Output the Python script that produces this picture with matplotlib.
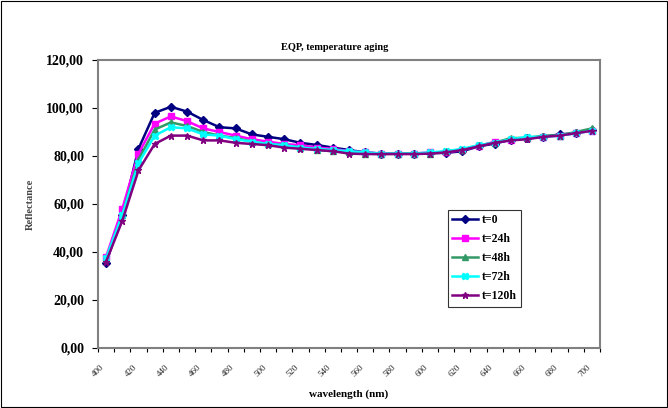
import numpy as np
import matplotlib
matplotlib.use("Agg")
from matplotlib import pyplot as plt
from matplotlib.patches import Rectangle

plt.rcParams['font.family'] = ['Liberation Serif', 'DejaVu Serif']

# wavelengths (nm), one point every 10 nm
wavelength = list(range(400, 710, 10))

t0 = [35.5, 55.5, 83.0, 98.0, 100.5, 98.5, 95.0, 92.0, 91.5, 89.0, 88.0,
      87.0, 85.5, 84.6, 83.5, 82.5, 81.5, 81.0, 81.0, 81.0, 81.2, 81.3,
      82.0, 84.0, 85.2, 86.8, 87.3, 88.0, 89.0, 89.5, 91.0]
t24 = [38.0, 58.0, 81.0, 93.5, 96.5, 94.5, 91.5, 90.0, 88.5, 87.0, 86.0,
       85.0, 84.5, 83.5, 83.0, 82.0, 81.5, 81.0, 81.0, 81.0, 81.5, 81.5,
       82.5, 84.0, 86.0, 86.5, 87.5, 88.0, 88.5, 89.5, 90.5]
t48 = [37.0, 55.5, 78.5, 91.0, 94.0, 92.5, 90.0, 88.5, 87.5, 86.0, 85.0,
       84.5, 83.5, 82.5, 82.0, 81.5, 81.0, 80.8, 81.0, 81.0, 81.0, 82.0,
       82.5, 84.5, 85.5, 87.5, 87.5, 88.5, 88.5, 90.0, 91.5]
t72 = [37.5, 55.5, 77.0, 88.5, 92.0, 91.5, 89.0, 88.5, 87.0, 86.0, 85.0,
       84.5, 83.5, 83.0, 82.5, 82.0, 81.5, 81.0, 81.0, 81.0, 81.5, 82.0,
       83.0, 84.5, 85.5, 87.0, 88.0, 88.0, 88.5, 89.5, 90.5]
t120 = [36.0, 53.0, 74.0, 85.0, 88.5, 88.5, 86.5, 86.5, 85.5, 85.0, 84.5,
        83.5, 83.0, 82.5, 82.0, 81.0, 80.8, 80.8, 80.8, 80.8, 81.0, 81.5,
        82.5, 84.0, 85.5, 86.5, 87.0, 88.0, 88.5, 89.5, 90.5]

series = [t0, t24, t48, t72, t120]
labels = ['t=0', 't=24h', 't=48h', 't=72h', 't=120h']
colors = ['#000080', '#ff00ff', '#339966', '#00ffff', '#800080']
markers = ['D', 's', '^', 'X', '*']

fig = plt.figure(figsize=(6.68, 4.08), dpi=100)
ax = fig.add_axes([98 / 668, 1 - 348 / 408, 502 / 668, 288 / 408])

x = np.arange(len(wavelength))
for vals, lab, c, m in zip(series, labels, colors, markers):
    ax.plot(x, vals, color=c, marker=m, markersize=4.5, linewidth=1.8, label=lab)

ax.set_xlim(-0.5, len(wavelength) - 0.5)
ax.set_ylim(0, 120)
ax.set_yticks(np.arange(0, 121, 20))
ax.set_yticklabels(['%d,00' % v for v in range(0, 121, 20)],
                   fontsize=10, fontweight='bold')

# tick marks between categories, labels on every other category
ax.set_xticks(np.arange(-0.5, len(wavelength), 1))
ax.set_xticklabels([])
ax.set_xticks(x[::2], minor=True)
ax.set_xticklabels([str(w) for w in wavelength[::2]], minor=True,
                   rotation=45, ha='right', fontsize=6.5, color='#222222')
ax.tick_params(axis='x', which='minor', length=0, pad=11)
ax.tick_params(axis='x', which='major', length=3, width=0.8)
ax.tick_params(axis='y', length=4, width=0.8, pad=6)

for s in ax.spines.values():
    s.set_color('#808080')
    s.set_linewidth(1.5)

fig.text(335 / 668, 1 - 47 / 408, 'EQP, temperature aging', fontsize=7.5,
         fontweight='bold', ha='center', va='center')
ax.set_xlabel('wavelength (nm)', fontsize=8, fontweight='bold', labelpad=8)
ax.set_ylabel('Reflectance', fontsize=7.5, fontweight='bold', color='#444444',
              labelpad=8)

leg = ax.legend(loc='upper left', bbox_to_anchor=(350 / 502, 1 - 150 / 288),
                prop={'weight': 'bold', 'size': 8.5},
                frameon=True, fancybox=False, edgecolor='black',
                handlelength=2.2, handletextpad=0.3, borderpad=0.35,
                labelspacing=0.6, borderaxespad=0)
leg.get_frame().set_linewidth(0.8)

fig.patches.append(Rectangle((0.002, 0.002), 0.996, 0.995, transform=fig.transFigure,
                             fill=False, edgecolor='black', linewidth=0.8))

fig.savefig('out.png', dpi=100)
